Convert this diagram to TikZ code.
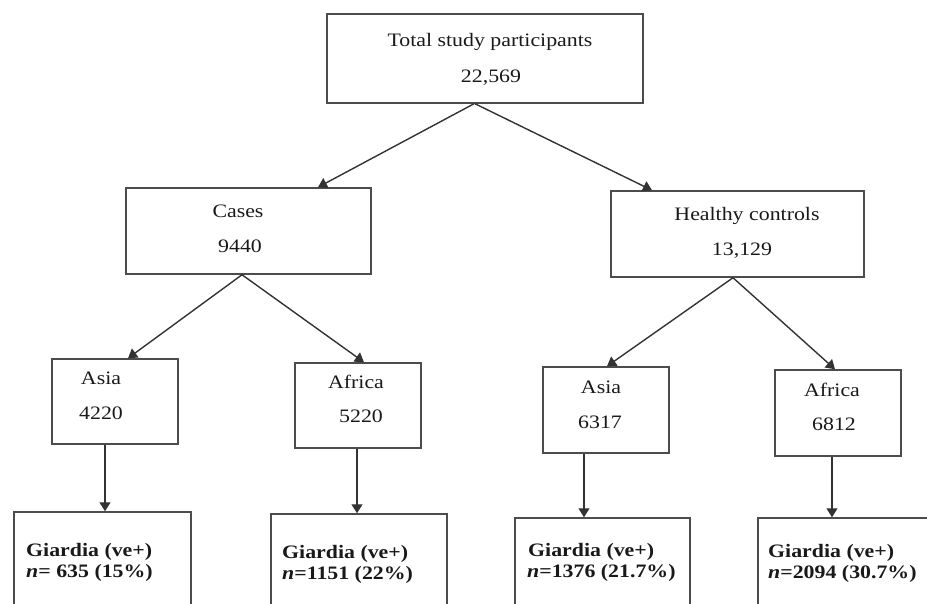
\documentclass[tikz,border=0pt]{standalone}
\usepackage{fontspec}
\setmainfont{Liberation Serif}[FakeStretch=1.15]
\usetikzlibrary{arrows.meta}
\begin{document}
\begin{tikzpicture}[x=1pt,y=-1pt,
  box/.style={draw=black!70, line width=1.5pt, rectangle, inner sep=0pt},
  lbl/.style={inner sep=0pt, anchor=base, font=\fontsize{19}{21}\selectfont, text=black!90},
  glbl/.style={inner sep=0pt, anchor=base west, font=\fontsize{19}{21}\selectfont\bfseries, text=black!90},
  conn/.style={draw=black!80, line width=1.4pt, -{Triangle[width=11pt,length=9pt]}}]
\useasboundingbox (0,0) rectangle (927,604);
\clip (0,0) rectangle (927,604);
% boxes
\node[box, minimum width=316pt, minimum height=89pt] (top) at (485,58.5) {};
\node[box, minimum width=245pt, minimum height=86pt] (cases) at (248.5,231) {};
\node[box, minimum width=253pt, minimum height=86pt] (hc) at (737.5,234) {};
\node[box, minimum width=126pt, minimum height=85pt] (asiaA) at (115,401.5) {};
\node[box, minimum width=126pt, minimum height=85pt] (afrA) at (358,405.5) {};
\node[box, minimum width=126pt, minimum height=86pt] (asiaB) at (606,410) {};
\node[box, minimum width=126pt, minimum height=86pt] (afrB) at (838,413) {};
\node[box, minimum width=177pt, minimum height=118pt] (gA) at (102.5,571) {};
\node[box, minimum width=176pt, minimum height=118pt] (gB) at (359,573) {};
\node[box, minimum width=175pt, minimum height=118pt] (gC) at (602.5,577) {};
\node[box, minimum width=177pt, minimum height=118pt] (gD) at (846.5,577) {};
% texts
\node[lbl] (t1) at (490,47) {Total study participants};
\node[lbl] (t2) at (491,83) {22,569};
\node[lbl] (c1) at (238,218) {Cases};
\node[lbl] (c2) at (240,253) {9440};
\node[lbl] (h1) at (747,221) {Healthy controls};
\node[lbl] (h2) at (742,256) {13,129};
\node[lbl] (a1) at (101,384) {Asia};
\node[lbl] (a2) at (101,419) {4220};
\node[lbl] (f1) at (356,388) {Africa};
\node[lbl] (f2) at (361,422) {5220};
\node[lbl] (b1) at (601,393) {Asia};
\node[lbl] (b2) at (600,428) {6317};
\node[lbl] (d1) at (832,396) {Africa};
\node[lbl] (d2) at (834,430) {6812};
\node[glbl] (gA1) at (26,556) {Giardia (ve+)};
\node[glbl] (gA2) at (26,577) {\textit{n}= 635 (15\%)};
\node[glbl] (gB1) at (282,558) {Giardia (ve+)};
\node[glbl] (gB2) at (282,579) {\textit{n}=1151 (22\%)};
\node[glbl] (gC1) at (528,556) {Giardia (ve+)};
\node[glbl] (gC2) at (527,577) {\textit{n}=1376 (21.7\%)};
\node[glbl] (gD1) at (768,557) {Giardia (ve+)};
\node[glbl] (gD2) at (768,578) {\textit{n}=2094 (30.7\%)};
% connectors
\draw[conn] ([xshift=-11pt]top.south) -- ([xshift=69.5pt]cases.north);
\draw[conn] ([xshift=-10pt]top.south) -- ([xshift=-85.5pt]hc.north);
\draw[conn] ([xshift=-6.5pt]cases.south) -- ([xshift=13pt]asiaA.north);
\draw[conn] ([xshift=-6.5pt]cases.south) -- ([xshift=6pt]afrA.north);
\draw[conn] ([xshift=-4.5pt]hc.south) -- ([xshift=1pt]asiaB.north);
\draw[conn] ([xshift=-4.5pt]hc.south) -- ([xshift=-3pt]afrB.north);
\draw[conn] ([xshift=-10pt]asiaA.south) -- ([xshift=-10pt]asiaA.south |- gA.north);
\draw[conn] ([xshift=-1pt]afrA.south) -- ([xshift=-1pt]afrA.south |- gB.north);
\draw[conn] ([xshift=-22pt]asiaB.south) -- ([xshift=-22pt]asiaB.south |- gC.north);
\draw[conn] ([xshift=-6pt]afrB.south) -- ([xshift=-6pt]afrB.south |- gD.north);
\end{tikzpicture}
\end{document}
